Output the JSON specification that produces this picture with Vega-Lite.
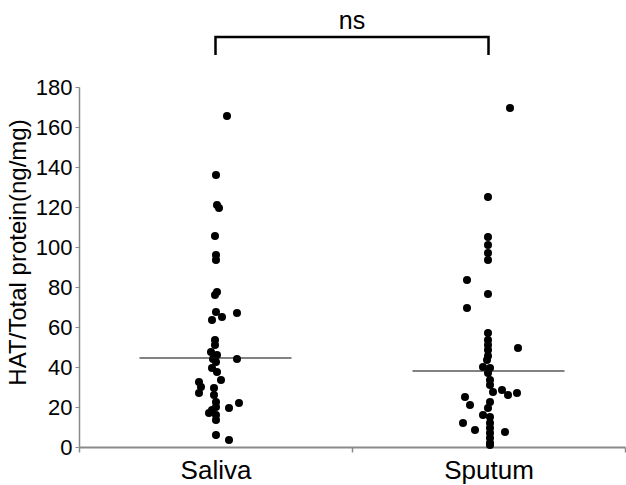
{
  "$schema": "https://vega.github.io/schema/vega-lite/v6.json",
  "width": 546,
  "height": 360,
  "autosize": {"type": "none"},
  "padding": {"left": 79, "top": 87, "right": 1, "bottom": 38},
  "background": "white",
  "config": {"view": {"stroke": null}, "font": "Liberation Sans"},
  "datasets": {
    "points": [
      {"group": "Saliva", "jitter": 11, "value": 165.5},
      {"group": "Saliva", "jitter": 0, "value": 136},
      {"group": "Saliva", "jitter": 1, "value": 121},
      {"group": "Saliva", "jitter": 3, "value": 119.5},
      {"group": "Saliva", "jitter": -1, "value": 105.5},
      {"group": "Saliva", "jitter": 0, "value": 96},
      {"group": "Saliva", "jitter": 0, "value": 93.5},
      {"group": "Saliva", "jitter": 1, "value": 77.5},
      {"group": "Saliva", "jitter": -1, "value": 76},
      {"group": "Saliva", "jitter": 0, "value": 67.5},
      {"group": "Saliva", "jitter": 6, "value": 65},
      {"group": "Saliva", "jitter": 21, "value": 67},
      {"group": "Saliva", "jitter": -4, "value": 63.5},
      {"group": "Saliva", "jitter": -1, "value": 53.5},
      {"group": "Saliva", "jitter": -1, "value": 51},
      {"group": "Saliva", "jitter": -5, "value": 47.5},
      {"group": "Saliva", "jitter": 1, "value": 46},
      {"group": "Saliva", "jitter": 21, "value": 44},
      {"group": "Saliva", "jitter": -3, "value": 44},
      {"group": "Saliva", "jitter": 0, "value": 42.5},
      {"group": "Saliva", "jitter": -4, "value": 39.5},
      {"group": "Saliva", "jitter": 1, "value": 37.5},
      {"group": "Saliva", "jitter": 5, "value": 33.5},
      {"group": "Saliva", "jitter": -17, "value": 32.5},
      {"group": "Saliva", "jitter": -15, "value": 30},
      {"group": "Saliva", "jitter": -17, "value": 27},
      {"group": "Saliva", "jitter": -2, "value": 29.5},
      {"group": "Saliva", "jitter": -2, "value": 26},
      {"group": "Saliva", "jitter": 0, "value": 22.5},
      {"group": "Saliva", "jitter": 0, "value": 20},
      {"group": "Saliva", "jitter": 23, "value": 22},
      {"group": "Saliva", "jitter": 13, "value": 19.5},
      {"group": "Saliva", "jitter": -7, "value": 17},
      {"group": "Saliva", "jitter": -4, "value": 18.5},
      {"group": "Saliva", "jitter": 0, "value": 16},
      {"group": "Saliva", "jitter": 0, "value": 13.5},
      {"group": "Saliva", "jitter": 0, "value": 6},
      {"group": "Saliva", "jitter": 13, "value": 3.5},
      {"group": "Sputum", "jitter": 21, "value": 169.5},
      {"group": "Sputum", "jitter": -1, "value": 125},
      {"group": "Sputum", "jitter": -1, "value": 105},
      {"group": "Sputum", "jitter": -1, "value": 101},
      {"group": "Sputum", "jitter": -1, "value": 97},
      {"group": "Sputum", "jitter": -1, "value": 93.5},
      {"group": "Sputum", "jitter": -22, "value": 83.5},
      {"group": "Sputum", "jitter": -1, "value": 76.5},
      {"group": "Sputum", "jitter": -22, "value": 69.5},
      {"group": "Sputum", "jitter": -1, "value": 57},
      {"group": "Sputum", "jitter": -1, "value": 53.5},
      {"group": "Sputum", "jitter": -1, "value": 51},
      {"group": "Sputum", "jitter": 29, "value": 49.5},
      {"group": "Sputum", "jitter": -1, "value": 48.5},
      {"group": "Sputum", "jitter": -1, "value": 45.5},
      {"group": "Sputum", "jitter": -2, "value": 43.5},
      {"group": "Sputum", "jitter": -6, "value": 40},
      {"group": "Sputum", "jitter": 1, "value": 39.5},
      {"group": "Sputum", "jitter": -1, "value": 37},
      {"group": "Sputum", "jitter": 1, "value": 33.5},
      {"group": "Sputum", "jitter": 1, "value": 31},
      {"group": "Sputum", "jitter": 13, "value": 28.5},
      {"group": "Sputum", "jitter": 19, "value": 26},
      {"group": "Sputum", "jitter": 28, "value": 27},
      {"group": "Sputum", "jitter": 4, "value": 27.5},
      {"group": "Sputum", "jitter": -24, "value": 25},
      {"group": "Sputum", "jitter": -19, "value": 21},
      {"group": "Sputum", "jitter": 1, "value": 22.5},
      {"group": "Sputum", "jitter": -1, "value": 19.5},
      {"group": "Sputum", "jitter": -6, "value": 16},
      {"group": "Sputum", "jitter": 1, "value": 15},
      {"group": "Sputum", "jitter": -26, "value": 12},
      {"group": "Sputum", "jitter": -14, "value": 8.5},
      {"group": "Sputum", "jitter": 16, "value": 7.5},
      {"group": "Sputum", "jitter": 1, "value": 12},
      {"group": "Sputum", "jitter": 1, "value": 9.5},
      {"group": "Sputum", "jitter": 1, "value": 7},
      {"group": "Sputum", "jitter": 1, "value": 4.5},
      {"group": "Sputum", "jitter": 1, "value": 2},
      {"group": "Sputum", "jitter": 1, "value": 1}
    ],
    "medians": [
      {"group": "Saliva", "value": 44.5},
      {"group": "Sputum", "value": 38}
    ],
    "bracket": [
      {"group": "Saliva", "value": 196, "o": 1},
      {"group": "Saliva", "value": 205, "o": 2},
      {"group": "Sputum", "value": 205, "o": 3},
      {"group": "Sputum", "value": 196, "o": 4}
    ],
    "label": [
      {"group": "Saliva", "value": 213, "text": "ns"}
    ]
  },
  "encoding": {
    "x": {
      "field": "group", "type": "nominal",
      "scale": {"domain": ["Saliva", "Sputum"], "paddingInner": 0, "paddingOuter": 0},
      "axis": {
        "title": null, "labelAngle": 0, "labelFontSize": 26, "labelColor": "black",
        "labelPadding": 5, "tickBand": "extent", "domainColor": "#8a8a8a", "domainWidth": 2,
        "tickColor": "#8a8a8a", "tickSize": 5, "tickWidth": 1.5
      }
    },
    "y": {
      "field": "value", "type": "quantitative",
      "scale": {"domain": [0, 180], "nice": false},
      "axis": {
        "title": "HAT/Total protein(ng/mg)", "titleFontSize": 24, "titleFontWeight": "normal",
        "titleColor": "black", "titleX": -49, "titleY": 165,
        "values": [0, 20, 40, 60, 80, 100, 120, 140, 160, 180],
        "tickCount": 10,
        "labelOverlap": false, "labelBound": false, "labelFlush": false,
        "labelFontSize": 22, "labelColor": "black", "labelPadding": 3,
        "grid": false, "domainColor": "#8a8a8a", "domainWidth": 1.5,
        "tickColor": "#8a8a8a", "tickSize": 4
      }
    }
  },
  "layer": [
    {
      "data": {"name": "points"},
      "mark": {"type": "circle", "size": 65, "color": "black", "opacity": 1},
      "encoding": {
        "xOffset": {
          "field": "jitter", "type": "quantitative",
          "scale": {"domain": [-40, 40], "range": [97, 177]}
        }
      }
    },
    {
      "data": {"name": "medians"},
      "mark": {"type": "tick", "size": 152, "thickness": 1.5, "color": "#111111"}
    },
    {
      "data": {"name": "bracket"},
      "mark": {"type": "line", "color": "black", "strokeWidth": 2.5, "clip": false},
      "encoding": {
        "order": {"field": "o", "type": "quantitative"}
      }
    },
    {
      "data": {"name": "label"},
      "mark": {"type": "text", "fontSize": 25, "color": "black", "baseline": "middle", "align": "center"},
      "encoding": {
        "x": {"field": "group", "type": "nominal", "bandPosition": 1},
        "text": {"field": "text"}
      }
    }
  ]
}
